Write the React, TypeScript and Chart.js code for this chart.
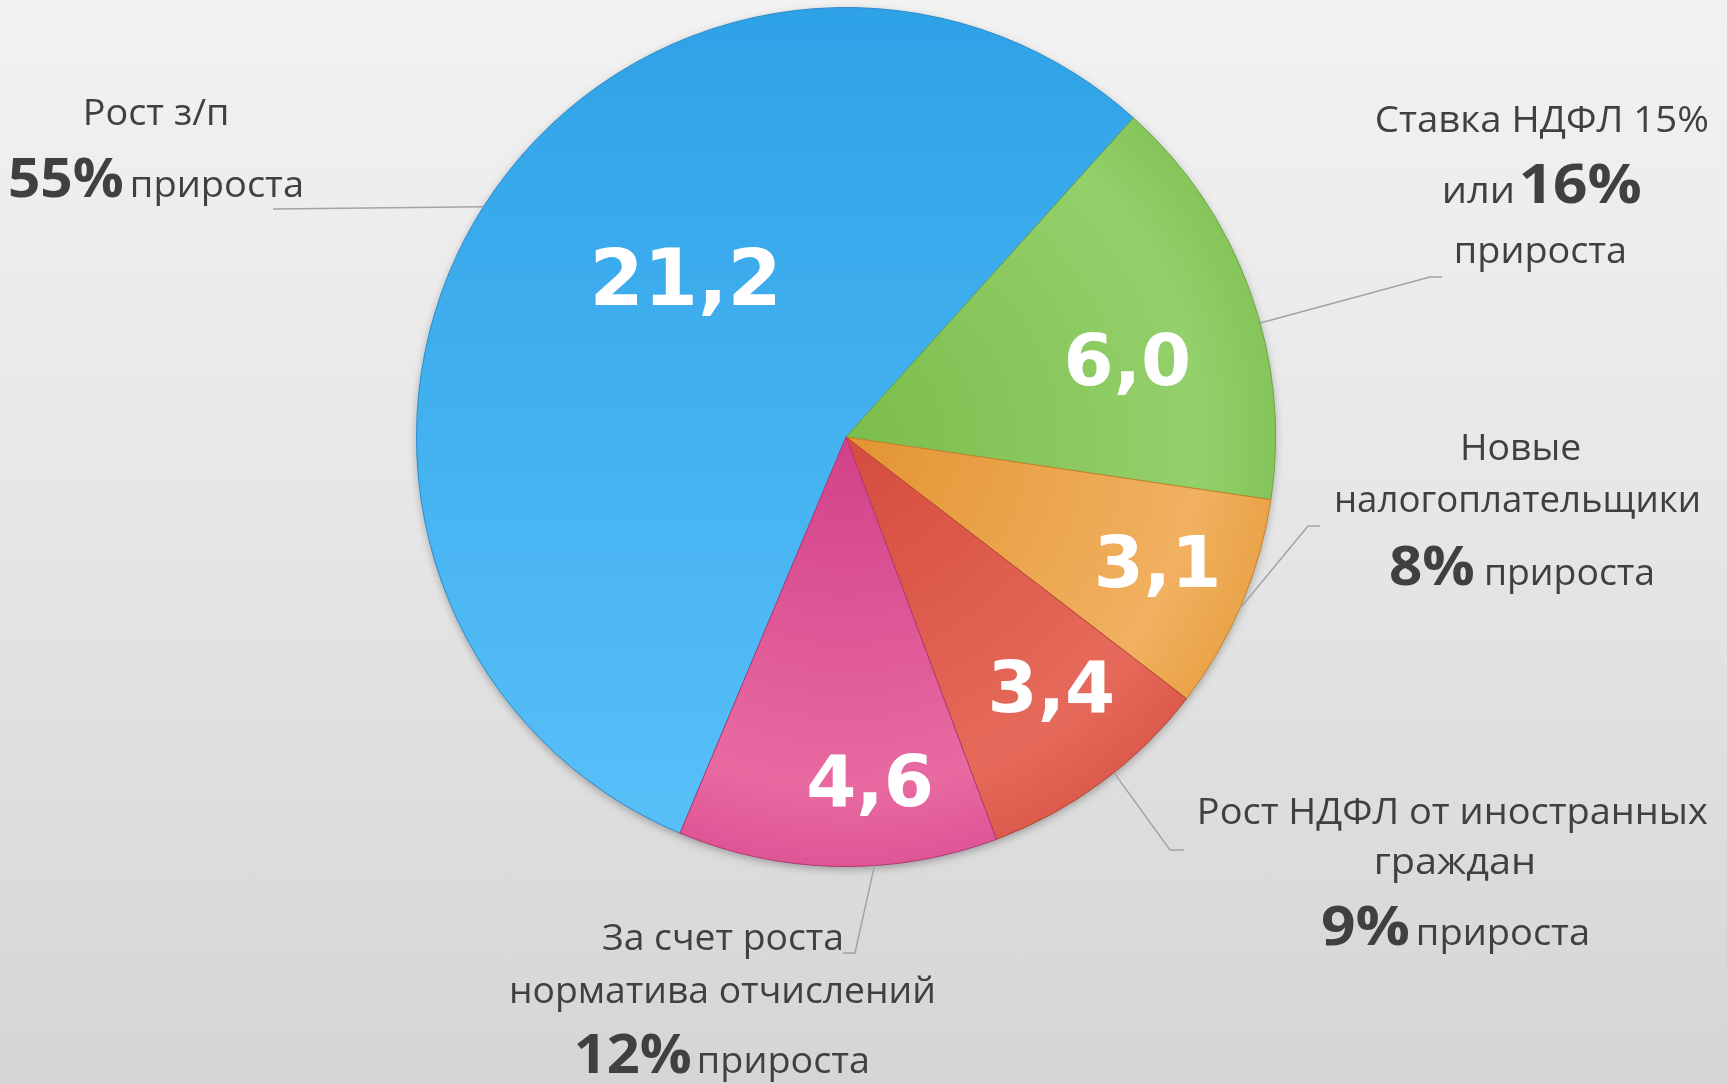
import React, { useEffect, useRef } from 'react';
import { Chart, registerables } from 'chart.js';

Chart.register(...registerables);

// ---------- data ----------
const categories = [
  'Рост з/п',
  'Ставка НДФЛ 15% или 16%',
  'Новые налогоплательщики',
  'Рост НДФЛ от иностранных граждан',
  'За счет роста норматива отчислений',
];
const values = [21.2, 6.0, 3.1, 3.4, 4.6];
const shares = ['55%', '16%', '8%', '9%', '12%'];
const titleLines: string[][] = [
  ['Рост з/п'],
  ['Ставка НДФЛ 15%', 'или'],
  ['Новые', 'налогоплательщики'],
  ['Рост НДФЛ от иностранных', 'граждан'],
  ['За счет роста', 'норматива отчислений'],
];
const growthWord = 'прироста';

// ---------- styles ----------
const sliceDark = ['#2ea2e7', '#7bbd4c', '#e39431', '#d44c3d', '#d2418a'];
const sliceLight = ['#5ac1f9', '#94d06b', '#f1b161', '#e66a5b', '#e86aa1'];
const sliceRim = ['#5ac1f9', '#85c55a', '#eaa449', '#dd5b4c', '#df5596'];
const sliceBorder = ['#2a8ccb', '#6aa642', '#c9822b', '#b64234', '#b43874'];
const GREEN_START_DEG = 42;

// label placements (angle clockwise from top, fraction of radius)
const valuePos = [
  { angle: -44.8, rf: 0.53 },
  { angle: 74.4, rf: 0.68 },
  { angle: 111.6, rf: 0.78 },
  { angle: 140.4, rf: 0.75 },
  { angle: 176, rf: 0.8 },
];
const valueFontSize = [78, 72, 72, 72, 72];
const leaders = [
  { angle: -57.6, points: [[273, 209]] },
  { angle: 74.6, points: [[1430, 277], [1442, 277]] },
  { angle: 113.6, points: [[1308, 526], [1320, 526]] },
  { angle: 141.4, points: [[1170, 850], [1184, 850]] },
  { angle: 176.2, points: [[855, 953], [843, 953]] },
];
// [left, baseline, inkWidth]
const labelLayout = [
  { lines: [[86, 125, 141]], share: [10, 197, 112], word: [133, 197, 169] },
  { lines: [[1377, 132, 330], [1445, 203, 67]], share: [1522, 203, 118], word: [1457, 263, 168] },
  { lines: [[1463, 460, 117], [1337, 512, 361]], share: [1390, 585, 83], word: [1487, 585, 166] },
  { lines: [[1200, 824, 508], [1377, 874, 156]], share: [1322, 945, 86], word: [1419, 945, 169] },
  { lines: [[603, 950, 239], [512, 1003, 421]], share: [577, 1073, 113], word: [700, 1073, 168] },
];

const REG_FONT = '36px "Open Sans"';
const BOLD_FONT = 'bold 54px "Open Sans"';
const TEXT_COLOR = '#404040';

function drawFitted(ctx: CanvasRenderingContext2D, text: string, left: number, baseline: number, width: number) {
  ctx.textAlign = 'left';
  ctx.textBaseline = 'alphabetic';
  const m = ctx.measureText(text);
  const ink = m.actualBoundingBoxLeft + m.actualBoundingBoxRight;
  const s = ink > 0 ? width / ink : 1;
  ctx.save();
  ctx.translate(left + m.actualBoundingBoxLeft * s, baseline);
  ctx.scale(s, 1);
  ctx.fillText(text, 0, 0);
  ctx.restore();
}

const labelsPlugin = {
  id: 'customLabels',
  beforeDatasetsDraw(chart: any) {
    const arc = chart.getDatasetMeta(0).data[0];
    if (!arc) return;
    const ctx: CanvasRenderingContext2D = chart.ctx;
    ctx.save();
    ctx.beginPath();
    ctx.arc(arc.x, arc.y, arc.outerRadius - 1, 0, Math.PI * 2);
    ctx.shadowColor = 'rgba(0,0,0,0.35)';
    ctx.shadowBlur = 10;
    ctx.shadowOffsetY = 3;
    ctx.fillStyle = '#999';
    ctx.fill();
    ctx.restore();
  },
  afterDatasetsDraw(chart: any) {
    const ctx: CanvasRenderingContext2D = chart.ctx;
    const arc = chart.getDatasetMeta(0).data[0];
    if (!arc) return;
    const cx = arc.x, cy = arc.y, r = arc.outerRadius;
    const polar = (deg: number, rr: number) => [
      cx + rr * Math.sin((deg * Math.PI) / 180),
      cy - rr * Math.cos((deg * Math.PI) / 180),
    ];
    ctx.save();
    // leader lines
    ctx.strokeStyle = '#a3a3a3';
    ctx.lineWidth = 1.5;
    leaders.forEach((l) => {
      const [x0, y0] = polar(l.angle, r);
      ctx.beginPath();
      ctx.moveTo(x0, y0);
      l.points.forEach(([x, y]) => ctx.lineTo(x, y));
      ctx.stroke();
    });
    // values inside slices
    ctx.fillStyle = '#ffffff';
    values.forEach((v, i) => {
      ctx.font = `bold ${valueFontSize[i]}px "DejaVu Sans"`;
      ctx.textAlign = 'center';
      ctx.textBaseline = 'alphabetic';
      const digitH = ctx.measureText('0').actualBoundingBoxAscent;
      const p = valuePos[i];
      const [x, y] = polar(p.angle, r * p.rf);
      const txt = v.toFixed(1).replace('.', ',');
      ctx.fillText(txt, x, y + digitH / 2);
    });
    // outside labels
    ctx.fillStyle = TEXT_COLOR;
    labelLayout.forEach((lay, i) => {
      ctx.font = REG_FONT;
      lay.lines.forEach((ln, j) => {
        drawFitted(ctx, titleLines[i][j], ln[0], ln[1], ln[2]);
      });
      drawFitted(ctx, growthWord, lay.word[0], lay.word[1], lay.word[2]);
      ctx.font = BOLD_FONT;
      drawFitted(ctx, shares[i], lay.share[0], lay.share[1], lay.share[2]);
    });
    ctx.restore();
  },
};

export default function App() {
  const canvasRef = useRef<HTMLCanvasElement | null>(null);

  useEffect(() => {
    const canvas = canvasRef.current;
    if (!canvas) return;
    const total = values.reduce((a, b) => a + b, 0);
    const rotation = GREEN_START_DEG - (values[0] / total) * 360;

    const bg = (context: any) => {
      const i = context.dataIndex;
      const chart = context.chart;
      const meta = chart.getDatasetMeta(0);
      const arc = meta && meta.data && meta.data[0];
      const area = chart.chartArea;
      if (!area) return sliceDark[i];
      const cx = arc && arc.x ? arc.x : (area.left + area.right) / 2;
      const cy = arc && arc.y ? arc.y : (area.top + area.bottom) / 2;
      const r = arc && arc.outerRadius ? arc.outerRadius : Math.min(area.width, area.height) / 2;
      const c = chart.ctx as CanvasRenderingContext2D;
      if (i === 0) {
        const g = c.createLinearGradient(0, cy - r, 0, cy + r);
        g.addColorStop(0, sliceDark[0]);
        g.addColorStop(1, sliceLight[0]);
        return g;
      }
      const g = c.createRadialGradient(cx, cy, 0, cx, cy, r);
      g.addColorStop(0, sliceDark[i]);
      g.addColorStop(0.82, sliceLight[i]);
      g.addColorStop(1, sliceRim[i]);
      return g;
    };

    const chart = new Chart(canvas, {
      type: 'pie',
      data: {
        labels: categories,
        datasets: [
          {
            data: values,
            backgroundColor: bg as any,
            borderColor: sliceBorder,
            borderWidth: 1,
          },
        ],
      },
      options: {
        responsive: false,
        animation: false,
        rotation,
        layout: { padding: { left: 416, top: 7, right: 451, bottom: 217 } },
        plugins: {
          legend: { display: false },
          tooltip: { enabled: false },
        },
      },
      plugins: [labelsPlugin],
    });
    (document as any).fonts?.ready?.then(() => chart.update());
    return () => chart.destroy();
  }, []);

  return (
    <div
      style={{
        position: 'fixed',
        left: 0,
        top: 0,
        width: 1727,
        height: 1084,
        background: 'linear-gradient(180deg, #f2f2f2 0%, #e7e7e7 45%, #d5d5d5 100%)',
        overflow: 'hidden',
      }}
    >
      <canvas ref={canvasRef} width={1727} height={1084} style={{ display: 'block' }} />
    </div>
  );
}
